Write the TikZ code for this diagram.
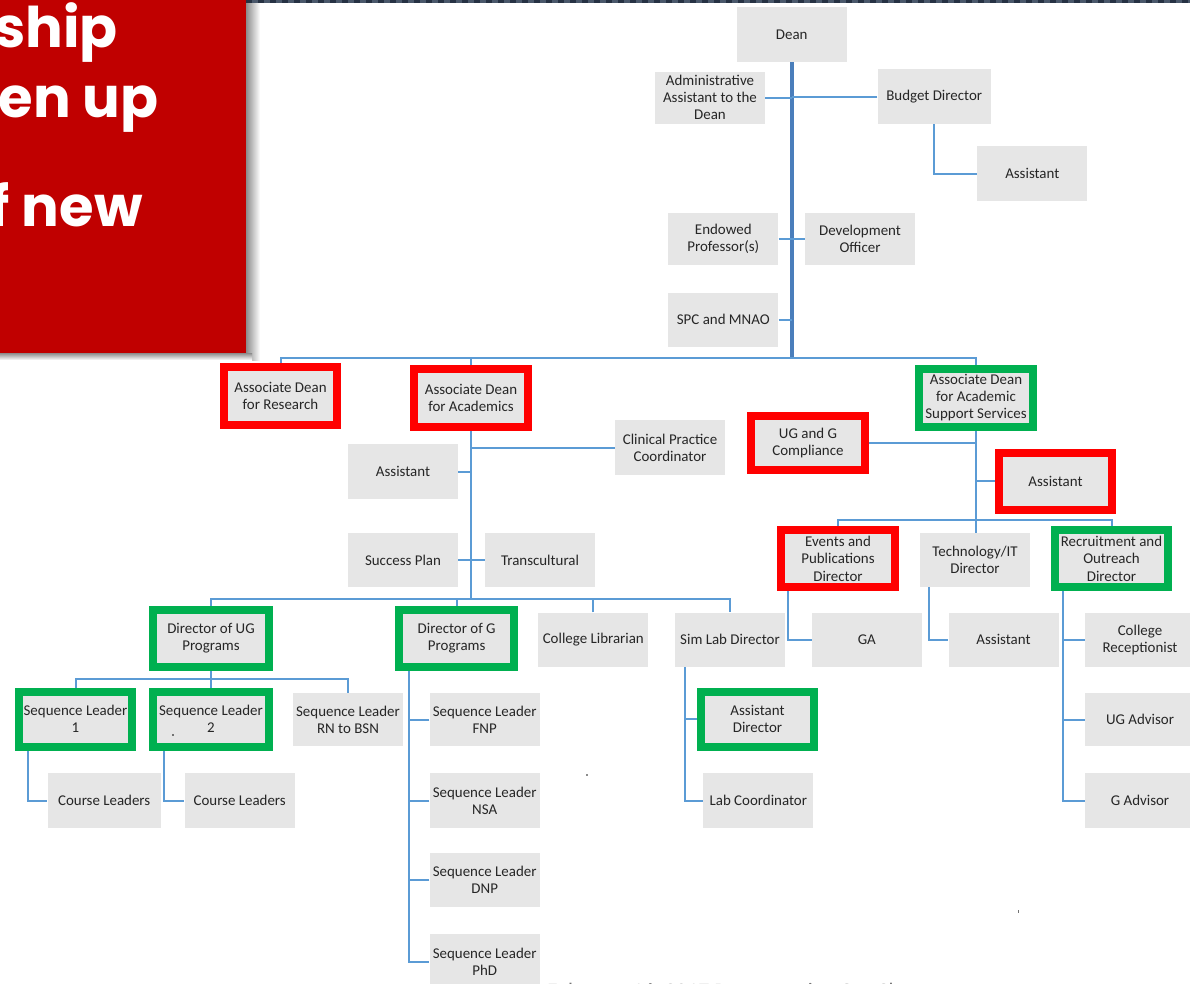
\documentclass[tikz,border=0pt]{standalone}
\usepackage{fontspec}
\setmainfont{Carlito}
\newfontfamily\panelfont{Poppins}
\usepackage{tikz}
\usetikzlibrary{positioning,calc,backgrounds}
\definecolor{OrgGray}{HTML}{E6E6E6}
\definecolor{OrgLine}{HTML}{5B9BD5}
\definecolor{OrgTrunk}{HTML}{4A7EBB}
\definecolor{OrgRed}{HTML}{FF0000}
\definecolor{OrgGreen}{HTML}{00B050}
\definecolor{OrgPanel}{HTML}{C00000}
\definecolor{OrgText}{HTML}{262626}
\definecolor{OrgStrip}{HTML}{4A586B}
\definecolor{OrgStripDark}{HTML}{263243}
\tikzset{
  rolebox/.style={fill=OrgGray, minimum width=82.5pt, minimum height=40.5pt, inner sep=0pt,
                  align=center, text=OrgText, font=\fontsize{11.2}{12.8}\selectfont},
  markedbox/.style={rolebox, line width=6pt, minimum width=85pt, minimum height=43pt},
  redbox/.style={markedbox, draw=OrgRed},
  greenbox/.style={markedbox, draw=OrgGreen},
  orgline/.style={draw=OrgLine, line width=1.5pt},
  mainline/.style={draw=OrgTrunk, line width=3pt},
  paneltext/.style={text=white, inner sep=0pt, font=\panelfont\bfseries\fontsize{42}{50}\selectfont},
}
\begin{document}
\begin{tikzpicture}[x=0.75pt,y=-0.75pt]
  \useasboundingbox (0,0) rectangle (1190,983);
  \clip (0,0) rectangle (1190,983);
  \shade[left color=black!45, right color=white] (246,3) rectangle (260,360);
  \shade[top color=black!45, bottom color=white] (0,353) rectangle (252,360);
  \fill[OrgPanel] (0,0) rectangle (246,353);
  \fill[OrgStrip] (246,0) rectangle (1190,3);
  \draw[OrgStripDark, line width=2.25pt, dash pattern=on 4.5pt off 4.5pt] (246,1.5) -- (1190,1.5);
  \node[paneltext, anchor=base east] (panelA) at (118,47.7) {rship};
  \node[paneltext, anchor=base east] (panelB) at (159,117.3) {en up};
  \node[paneltext, anchor=base east] (panelC) at (143,226.7) {f new};

  \node[rolebox, minimum height=41pt] (dean) at (791.7,34.7) {Dean};
  \node[rolebox, minimum height=39pt] (admin) at (710,97.5) {Administrative\\Assistant to the\\Dean};
  \node[rolebox, minimum width=85pt, minimum height=41pt] (budget) at (934.2,96.7) {Budget Director};
  \node[rolebox, minimum height=41pt] (budasst) at (1032.3,173.5) {Assistant};
  \node[rolebox, minimum height=39pt] (endowed) at (723.3,238.8) {Endowed\\Professor(s)};
  \node[rolebox, minimum height=39pt] (devofficer) at (860,238.8) {Development\\Officer};
  \node[rolebox] (spc) at (723.3,319.5) {SPC and MNAO};

  \node[redbox] (adr) at (280.5,396) {Associate Dean\\for Research};
  \node[redbox] (ada) at (471,397.9) {Associate Dean\\for Academics};
  \node[greenbox] (ass) at (976,397.9) {Associate Dean\\for Academic\\Support Services};

  \node[rolebox, minimum height=41pt] (cpc) at (670,447.5) {Clinical Practice\\Coordinator};
  \node[rolebox, minimum height=41pt] (acasst) at (403,471.5) {Assistant};
  \node[rolebox] (success) at (403,560) {Success Plan};
  \node[rolebox] (transcult) at (540,560) {Transcultural};

  \node[redbox, minimum height=41pt] (uggc) at (808,443) {UG and G\\Compliance};
  \node[redbox] (assasst) at (1055.5,481.4) {Assistant};
  \node[redbox] (epd) at (838,558.8) {Events and\\Publications\\Director};
  \node[rolebox] (techit) at (975,559.8) {Technology/IT\\Director};
  \node[greenbox] (rod) at (1111.5,558.8) {Recruitment and\\Outreach\\Director};
  \node[rolebox] (ga) at (866.8,639.7) {GA};
  \node[rolebox] (techasst) at (1003.5,639.7) {Assistant};
  \node[rolebox] (collrec) at (1140,640) {College\\Receptionist};
  \node[rolebox, minimum height=40pt] (ugadv) at (1140,719.5) {UG Advisor};
  \node[rolebox, minimum height=41pt] (gadv) at (1140,800.5) {G Advisor};

  \node[greenbox, minimum width=86.5pt] (dug) at (211,638.4) {Director of UG\\Programs};
  \node[greenbox, minimum width=86.5pt] (dg) at (456.7,638.4) {Director of G\\Programs};
  \node[rolebox] (clib) at (593.3,639.7) {College Librarian};
  \node[rolebox] (simlab) at (730,639.7) {Sim Lab Director};
  \node[greenbox, minimum height=41.5pt] (asstdir) at (757.5,719.2) {Assistant\\Director};
  \node[rolebox, minimum height=41pt] (labco) at (758.3,800.8) {Lab Coordinator};

  \node[greenbox, minimum height=41.5pt] (seqone) at (75.5,719.2) {Sequence Leader\\1};
  \node[greenbox, minimum width=86.5pt, minimum height=41.5pt] (seqtwo) at (211,719.2) {Sequence Leader\\2};
  \node[rolebox, minimum height=39.5pt] (seqrn) at (348,719.7) {Sequence Leader\\RN to BSN};
  \node[rolebox, minimum width=85pt, minimum height=41pt] (courseone) at (104.2,800.8) {Course Leaders};
  \node[rolebox, minimum height=41pt] (coursetwo) at (239.7,800.8) {Course Leaders};

  \node[rolebox, minimum height=39.5pt] (seqfnp) at (484.7,719.7) {Sequence Leader\\FNP};
  \node[rolebox, minimum height=41pt] (seqnsa) at (484.7,800.8) {Sequence Leader\\NSA};
  \node[rolebox, minimum height=41pt] (seqdnp) at (484.7,880) {Sequence Leader\\DNP};
  \node[rolebox, minimum height=41pt] (seqphd) at (484.7,961.7) {Sequence Leader\\PhD};

  \node[anchor=base west, inner sep=0pt, text=black!55, font=\fontsize{16.5}{20}\selectfont] (footer) at (547,998) {February 16, 2017 Restructuring Org Chart};
  \fill[black!45] (585.5,774) rectangle (587.5,776);
  \fill[black!55] (172,734) rectangle (174,736);
  \fill[black!55] (1017.5,910) rectangle (1018.5,913);

  \begin{scope}[on background layer]
    \fill[white] (0,0) rectangle (1190,983);
    \coordinate (deanbus) at (791.7,358.3);
    \draw[mainline] (dean.south) -- (deanbus);
    \draw[orgline] (admin.east) -- (admin.east -| dean.south);
    \draw[orgline] (budget.west) -- (budget.west -| dean.south);
    \draw[orgline] (budget.south) |- (budasst.west);
    \draw[orgline] (endowed.east) -- (devofficer.west);
    \draw[orgline] (spc.east) -- (spc.east -| dean.south);
    \draw[orgline] (adr.north) |- (deanbus) -| (ass.north);
    \draw[orgline] (ada.north) -- (ada.north |- deanbus);

    \coordinate (adabus) at (471,598.5);
    \draw[orgline] (ada.south) -- (adabus);
    \draw[orgline] (cpc.west) -- (cpc.west -| ada.south);
    \draw[orgline] (acasst.east) -- (acasst.east -| ada.south);
    \draw[orgline] (success.east) -- (transcult.west);
    \draw[orgline] (dug.north) |- (adabus) -| (simlab.north);
    \draw[orgline] (dg.north) -- (dg.north |- adabus);
    \draw[orgline] (clib.north) -- (clib.north |- adabus);

    \draw[orgline] (ass.south) -- (ass.south |- techit.north);
    \draw[orgline] (uggc.east) -- (uggc.east -| ass.south);
    \draw[orgline] (assasst.west) -- (assasst.west -| ass.south);
    \coordinate (assbus) at (976,520);
    \draw[orgline] (epd.north) |- (assbus) -| (rod.north);
    \draw[orgline] ($(epd.south west)+(11,0)$) |- (ga.west);
    \draw[orgline] ($(techit.south west)+(9,0)$) |- (techasst.west);
    \coordinate (rodline) at ($(rod.south west)+(12,0)$);
    \draw[orgline] (rodline) |- (gadv.west);
    \draw[orgline] (collrec.west) -- (collrec.west -| rodline);
    \draw[orgline] (ugadv.west) -- (ugadv.west -| rodline);

    \coordinate (dugbus) at (211,679.3);
    \draw[orgline] (dug.south) -- (seqtwo.north);
    \draw[orgline] (seqone.north) |- (dugbus) -| (seqrn.north);
    \draw[orgline] ($(seqone.south west)+(13,0)$) |- (courseone.west);
    \draw[orgline] ($(seqtwo.south west)+(15,0)$) |- (coursetwo.west);

    \coordinate (dgline) at ($(dg.south west)+(14,0)$);
    \draw[orgline] (dgline) |- (seqphd.west);
    \draw[orgline] (seqfnp.west) -- (seqfnp.west -| dgline);
    \draw[orgline] (seqnsa.west) -- (seqnsa.west -| dgline);
    \draw[orgline] (seqdnp.west) -- (seqdnp.west -| dgline);

    \coordinate (simline) at ($(simlab.south west)+(10,0)$);
    \draw[orgline] (simline) |- (labco.west);
    \draw[orgline] (asstdir.west) -- (asstdir.west -| simline);
  \end{scope}
\end{tikzpicture}
\end{document}
